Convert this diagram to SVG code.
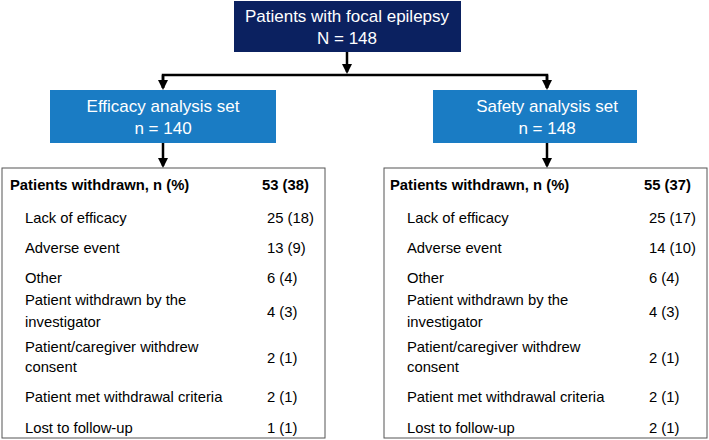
<svg xmlns="http://www.w3.org/2000/svg" width="709" height="440" viewBox="0 0 709 440">
<style>
text{font-family:"Liberation Sans",Arial,sans-serif;font-size:14.8px;fill:#000}
.w{fill:#fff;font-size:17px;text-anchor:middle}
.b{font-weight:bold}
.tb{fill:#fff;stroke:#555;stroke-width:1}
.c{stroke:#000;stroke-width:2.5;fill:none}
</style>
<defs><marker id="a" viewBox="0 0 10 10" refX="8" refY="5" markerWidth="4" markerHeight="4" orient="auto"><path d="M0,0L10,5L0,10z" fill="#000"/></marker></defs>
<g id="top"><rect x="234" y="1" width="227" height="51" fill="#0b2160"/><text class="w" x="347" y="22">Patients with focal epilepsy</text><text class="w" x="347" y="44">N = 148</text></g>
<g id="eff"><rect x="50" y="90" width="226" height="53" fill="#1a7cc4"/><text class="w" x="163" y="112">Efficacy analysis set</text><text class="w" x="163" y="134">n = 140</text></g>
<g id="saf"><rect x="433" y="90" width="204" height="53" fill="#1a7cc4"/><text class="w" x="547" y="112">Safety analysis set</text><text class="w" x="547" y="134">n = 148</text></g>
<g id="connectors">
<path class="c" d="M347,52V72" marker-end="url(#a)"/>
<path class="c" d="M163,88V75H547V88" />
<path class="c" d="M163,75V88" marker-end="url(#a)"/>
<path class="c" d="M547,75V88" marker-end="url(#a)"/>
<path class="c" d="M163,143V166" marker-end="url(#a)"/>
<path class="c" d="M547,143V166" marker-end="url(#a)"/>
</g>
<g id="left">
<rect class="tb" x="2" y="168" width="323" height="270"/>
<text class="b" x="10" y="190">Patients withdrawn, n (%)</text><text class="b" x="262" y="190">53 (38)</text>
<text x="25" y="223">Lack of efficacy</text><text x="267" y="223">25 (18)</text>
<text x="25" y="253">Adverse event</text><text x="267" y="253">13 (9)</text>
<text x="25" y="283">Other</text><text x="267" y="283">6 (4)</text>
<text x="25" y="305">Patient withdrawn by the</text><text x="25" y="327">investigator</text><text x="267" y="317">4 (3)</text>
<text x="25" y="352">Patient/caregiver withdrew</text><text x="25" y="372">consent</text><text x="267" y="363">2 (1)</text>
<text x="25" y="402">Patient met withdrawal criteria</text><text x="267" y="402">2 (1)</text>
<text x="25" y="433">Lost to follow-up</text><text x="267" y="433">1 (1)</text>
</g>
<g id="right">
<rect class="tb" x="384" y="168" width="323" height="270"/>
<text class="b" x="390" y="190">Patients withdrawn, n (%)</text><text class="b" x="644" y="190">55 (37)</text>
<text x="407" y="223">Lack of efficacy</text><text x="649" y="223">25 (17)</text>
<text x="407" y="253">Adverse event</text><text x="649" y="253">14 (10)</text>
<text x="407" y="283">Other</text><text x="649" y="283">6 (4)</text>
<text x="407" y="305">Patient withdrawn by the</text><text x="407" y="327">investigator</text><text x="649" y="317">4 (3)</text>
<text x="407" y="352">Patient/caregiver withdrew</text><text x="407" y="372">consent</text><text x="649" y="363">2 (1)</text>
<text x="407" y="402">Patient met withdrawal criteria</text><text x="649" y="402">2 (1)</text>
<text x="407" y="433">Lost to follow-up</text><text x="649" y="433">2 (1)</text>
</g>
</svg>
